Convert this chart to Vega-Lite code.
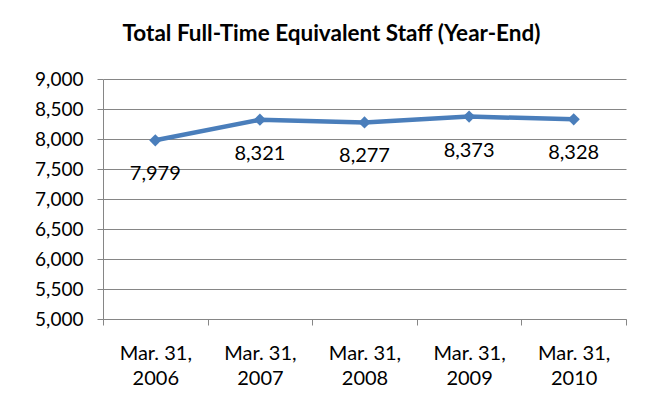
{
  "$schema": "https://vega.github.io/schema/vega-lite/v6.json",
  "autosize": "none",
  "width": 523,
  "height": 240,
  "padding": {"left": 103, "top": 79, "right": 23, "bottom": 87},
  "background": "white",
  "title": {
    "text": "Total Full-Time Equivalent Staff (Year-End)",
    "font": "Lato",
    "fontSize": 22.5,
    "fontWeight": "bold",
    "color": "#000000",
    "anchor": "middle",
    "offset": 25,
    "dx": -33
  },
  "data": {
    "values": [
      {"date": "Mar. 31, 2006", "staff": 7979},
      {"date": "Mar. 31, 2007", "staff": 8321},
      {"date": "Mar. 31, 2008", "staff": 8277},
      {"date": "Mar. 31, 2009", "staff": 8373},
      {"date": "Mar. 31, 2010", "staff": 8328}
    ]
  },
  "encoding": {
    "x": {
      "field": "date",
      "type": "ordinal",
      "sort": null,
      "scale": {"paddingInner": 0, "paddingOuter": 0},
      "axis": {
        "title": null,
        "labelAngle": 0,
        "tickBand": "extent",
        "labelExpr": "[slice(datum.label,0,8), slice(datum.label,9)]",
        "labelFont": "Lato",
        "labelFontSize": 20,
        "labelColor": "#000000",
        "labelPadding": 18,
        "labelLineHeight": 25,
        "tickSize": 6,
        "tickColor": "#868686",
        "domainColor": "#868686",
        "grid": false
      }
    },
    "y": {
      "field": "staff",
      "type": "quantitative",
      "scale": {"domain": [5000, 9000], "nice": false, "zero": false},
      "axis": {
        "title": null,
        "values": [5000, 5500, 6000, 6500, 7000, 7500, 8000, 8500, 9000],
        "format": ",.0f",
        "labelFont": "Lato",
        "labelFontSize": 19,
        "labelColor": "#000000",
        "labelPadding": 14,
        "tickSize": 6,
        "tickColor": "#868686",
        "domainColor": "#868686",
        "gridColor": "#868686",
        "gridOpacity": 1
      }
    }
  },
  "layer": [
    {
      "mark": {"type": "line", "color": "#4A7EBB", "strokeWidth": 4.5}
    },
    {
      "mark": {"type": "point", "shape": "diamond", "filled": true, "color": "#4A7EBB", "opacity": 1, "size": 150}
    },
    {
      "mark": {"type": "text", "dy": 34, "font": "Lato", "fontSize": 20, "color": "#000000"},
      "encoding": {"text": {"field": "staff", "type": "quantitative", "format": ",.0f"}}
    }
  ],
  "config": {"view": {"stroke": null}}
}
